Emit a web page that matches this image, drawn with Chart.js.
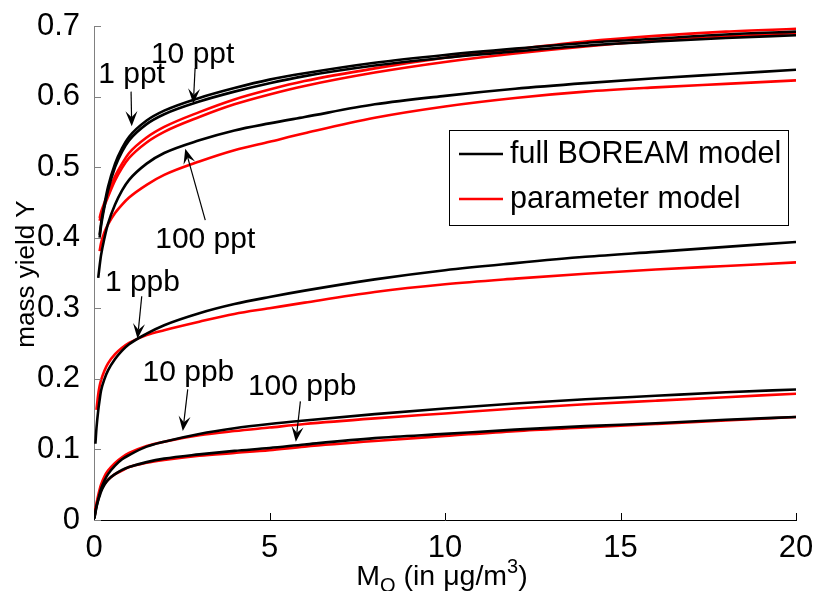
<!DOCTYPE html>
<html>
<head>
<meta charset="utf-8">
<script src="https://cdn.jsdelivr.net/npm/chart.js@4.4.1/dist/chart.umd.min.js"></script>
<style>
  html, body { margin: 0; padding: 0; background: #fff; }
  canvas { display: block; }
</style>
</head>
<body>
<canvas id="c" width="816" height="591"></canvas>
<script>
// ---- data ----
const xValues = [0.01, 0.04, 0.07, 0.12, 0.16, 0.2, 0.3, 0.4, 0.6, 0.8, 1, 1.5, 2, 3, 4, 5, 6, 8, 10, 12, 14, 16, 18, 20];

// full BOREAM model (black)
const boream1ppt   = [null, null, null, null, 0.404, 0.420, 0.448, 0.472, 0.505, 0.527, 0.543, 0.566, 0.580, 0.598, 0.612, 0.624, 0.633, 0.648, 0.659, 0.668, 0.676, 0.682, 0.688, 0.692];
const boream10ppt  = [null, null, null, null, 0.400, 0.416, 0.444, 0.467, 0.500, 0.522, 0.538, 0.561, 0.575, 0.593, 0.607, 0.619, 0.629, 0.644, 0.655, 0.664, 0.672, 0.678, 0.683, 0.687];
const boream100ppt = [null, null, null, 0.343, 0.360, 0.375, 0.400, 0.420, 0.447, 0.467, 0.482, 0.505, 0.520, 0.538, 0.552, 0.562, 0.571, 0.589, 0.601, 0.611, 0.619, 0.626, 0.632, 0.638];
const boream1ppb   = [null, 0.108, 0.130, 0.155, 0.170, 0.183, 0.200, 0.212, 0.228, 0.240, 0.249, 0.264, 0.276, 0.293, 0.306, 0.316, 0.325, 0.341, 0.354, 0.364, 0.373, 0.380, 0.387, 0.394];
const boream10ppb  = [0.002, 0.010, 0.018, 0.029, 0.037, 0.044, 0.056, 0.065, 0.077, 0.086, 0.092, 0.104, 0.111, 0.122, 0.130, 0.136, 0.141, 0.150, 0.158, 0.165, 0.171, 0.176, 0.181, 0.185];
const boream100ppb = [0.002, 0.012, 0.019, 0.028, 0.034, 0.040, 0.050, 0.057, 0.065, 0.071, 0.075, 0.082, 0.087, 0.093, 0.098, 0.102, 0.107, 0.116, 0.122, 0.128, 0.133, 0.137, 0.142, 0.146];

// parameter model (red)
const param1ppt   = [null, null, null, null, 0.428, 0.436, 0.450, 0.463, 0.487, 0.505, 0.520, 0.542, 0.557, 0.578, 0.596, 0.610, 0.622, 0.640, 0.655, 0.667, 0.678, 0.686, 0.692, 0.696];
const param10ppt  = [null, null, null, null, 0.424, 0.432, 0.446, 0.458, 0.481, 0.499, 0.513, 0.535, 0.550, 0.571, 0.589, 0.603, 0.615, 0.634, 0.649, 0.661, 0.671, 0.679, 0.685, 0.690];
const param100ppt = [null, null, null, null, 0.381, 0.392, 0.408, 0.419, 0.435, 0.447, 0.457, 0.475, 0.489, 0.508, 0.524, 0.536, 0.548, 0.570, 0.586, 0.598, 0.607, 0.613, 0.618, 0.623];
const param1ppb   = [null, null, 0.156, 0.178, 0.190, 0.198, 0.212, 0.222, 0.235, 0.244, 0.251, 0.262, 0.269, 0.281, 0.292, 0.300, 0.308, 0.323, 0.334, 0.342, 0.349, 0.355, 0.360, 0.365];
const param10ppb  = [0.003, 0.014, 0.023, 0.035, 0.043, 0.050, 0.062, 0.070, 0.081, 0.089, 0.095, 0.105, 0.111, 0.120, 0.126, 0.131, 0.136, 0.144, 0.151, 0.158, 0.164, 0.169, 0.174, 0.179];
const param100ppb = [0.003, 0.014, 0.022, 0.031, 0.037, 0.042, 0.051, 0.057, 0.065, 0.070, 0.075, 0.081, 0.085, 0.091, 0.095, 0.099, 0.104, 0.112, 0.119, 0.126, 0.131, 0.136, 0.141, 0.146];

const xTicks = [0, 5, 10, 15, 20];
const yTicks = [0, 0.1, 0.2, 0.3, 0.4, 0.5, 0.6, 0.7];
const legendLabels = ['full BOREAM model', 'parameter model'];

// annotations (data coordinates)
const annotText   = ['1 ppt', '10 ppt', '100 ppt', '1 ppb', '10 ppb', '100 ppb'];
const annotTextX  = [1.07, 2.81, 3.17, 1.38, 2.69, 5.93];
const annotTextY  = [0.619, 0.647, 0.385, 0.324, 0.1965, 0.1777];
const arrowTailX  = [1.056, 2.88, 3.17, 1.36, 2.67, 5.88];
const arrowTailY  = [0.607, 0.640, 0.425, 0.317, 0.185, 0.168];
const arrowTipX   = [1.075, 2.83, 2.60, 1.24, 2.53, 5.75];
const arrowTipY   = [0.558, 0.590, 0.526, 0.257, 0.126, 0.111];

// ---- build ----
const FONT = "'Liberation Sans', Arial, Helvetica, sans-serif";
function pts(arr) {
  const out = [];
  arr.forEach((y, i) => { if (y !== null) out.push({ x: xValues[i], y: y }); });
  return out;
}
const blackSeries = [boream1ppt, boream10ppt, boream100ppt, boream1ppb, boream10ppb, boream100ppb];
const redSeries = [param1ppt, param10ppt, param100ppt, param1ppb, param10ppb, param100ppb];
const datasets = [];
blackSeries.forEach(s => datasets.push({ label: legendLabels[0], data: pts(s), borderColor: '#000000', borderWidth: 2.6, pointRadius: 0, fill: false, cubicInterpolationMode: 'monotone' }));
redSeries.forEach(s => datasets.push({ label: legendLabels[1], data: pts(s), borderColor: '#ff0000', borderWidth: 2.6, pointRadius: 0, fill: false, cubicInterpolationMode: 'monotone' }));

const decorPlugin = {
  id: 'decor',
  afterDraw(chart) {
    const ctx = chart.ctx;
    const xs = chart.scales.x, ys = chart.scales.y;
    const area = chart.chartArea;
    ctx.save();
    // inward tick marks
    ctx.lineWidth = 1;
    ctx.strokeStyle = '#000';
    xTicks.forEach(v => {
      const px = Math.round(xs.getPixelForValue(v)) + 0.5;
      ctx.beginPath(); ctx.moveTo(px, area.bottom); ctx.lineTo(px, area.bottom - 7); ctx.stroke();
    });
    ctx.strokeStyle = '#808080';
    yTicks.forEach(v => {
      const py = Math.round(ys.getPixelForValue(v)) + 0.5;
      ctx.beginPath(); ctx.moveTo(area.left, py); ctx.lineTo(area.left + 7, py); ctx.stroke();
    });

    // annotations
    ctx.fillStyle = '#000';
    ctx.font = '30px ' + FONT;
    ctx.textAlign = 'center';
    ctx.textBaseline = 'alphabetic';
    annotText.forEach((t, i) => {
      ctx.fillText(t, xs.getPixelForValue(annotTextX[i]), ys.getPixelForValue(annotTextY[i]));
      const x0 = xs.getPixelForValue(arrowTailX[i]), y0 = ys.getPixelForValue(arrowTailY[i]);
      const x1 = xs.getPixelForValue(arrowTipX[i]), y1 = ys.getPixelForValue(arrowTipY[i]);
      const dx = x1 - x0, dy = y1 - y0, len = Math.hypot(dx, dy);
      const ux = dx / len, uy = dy / len, nx = -uy, ny = ux;
      const L = 15, W = 6;
      ctx.strokeStyle = '#000';
      ctx.lineWidth = 1.2;
      ctx.beginPath(); ctx.moveTo(x0, y0); ctx.lineTo(x1 - ux * L * 0.6, y1 - uy * L * 0.6); ctx.stroke();
      ctx.beginPath();
      ctx.moveTo(x1, y1);
      ctx.lineTo(x1 - ux * L + nx * W, y1 - uy * L + ny * W);
      ctx.lineTo(x1 - ux * L * 0.6, y1 - uy * L * 0.6);
      ctx.lineTo(x1 - ux * L - nx * W, y1 - uy * L - ny * W);
      ctx.closePath();
      ctx.fill();
    });

    // legend
    const lx = 449.5, ly = 130.5, lw = 339, lh = 95;
    ctx.fillStyle = '#fff';
    ctx.fillRect(lx, ly, lw, lh);
    ctx.strokeStyle = '#000'; ctx.lineWidth = 1;
    ctx.strokeRect(lx, ly, lw, lh);
    const rows = [154, 199], cols = ['#000000', '#ff0000'];
    rows.forEach((ry, i) => {
      ctx.strokeStyle = cols[i]; ctx.lineWidth = 2.6;
      ctx.beginPath(); ctx.moveTo(459, ry); ctx.lineTo(503, ry); ctx.stroke();
      ctx.fillStyle = '#000';
      ctx.textAlign = 'left'; ctx.textBaseline = 'middle';
      ctx.font = '30.5px ' + FONT;
      ctx.fillText(legendLabels[i], 510, ry + 1);
    });

    // y title
    ctx.save();
    ctx.translate(27, 274);
    ctx.rotate(-Math.PI / 2);
    ctx.font = '26px ' + FONT;
    ctx.textAlign = 'center'; ctx.textBaseline = 'middle';
    ctx.fillStyle = '#000';
    ctx.fillText('mass yield Y', 0, 0);
    ctx.restore();

    // x title: M_O (in μg/m^3)
    const big = '28.5px ' + FONT, small = '20px ' + FONT;
    const parts = [
      { t: 'M', f: big, dy: 0 },
      { t: 'O', f: small, dy: 7 },
      { t: ' (in \u03bcg/m', f: big, dy: 0 },
      { t: '3', f: small, dy: -12 },
      { t: ')', f: big, dy: 0 }
    ];
    let total = 0;
    parts.forEach(p => { ctx.font = p.f; p.w = ctx.measureText(p.t).width; total += p.w; });
    let cx = 442 - total / 2;
    const base = 585;
    ctx.textAlign = 'left'; ctx.textBaseline = 'alphabetic'; ctx.fillStyle = '#000';
    parts.forEach(p => { ctx.font = p.f; ctx.fillText(p.t, cx, base + p.dy); cx += p.w; });
    ctx.restore();
  }
};

new Chart(document.getElementById('c'), {
  type: 'line',
  data: { datasets: datasets },
  plugins: [decorPlugin],
  options: {
    responsive: false,
    animation: false,
    devicePixelRatio: 1,
    layout: { padding: { left: 0, right: 20, top: 26, bottom: 0 } },
    plugins: { legend: { display: false }, tooltip: { enabled: false } },
    scales: {
      x: {
        type: 'linear', min: 0, max: 20,
        afterBuildTicks: s => { s.ticks = xTicks.map(v => ({ value: v })); },
        afterFit: s => { s.height = 71; },
        grid: { display: false },
        border: { display: true, color: '#000', width: 1 },
        ticks: { color: '#000', font: { family: FONT, size: 31 }, padding: 2, maxRotation: 0 }
      },
      y: {
        type: 'linear', min: 0, max: 0.7,
        afterBuildTicks: s => { s.ticks = yTicks.map(v => ({ value: v })); },
        afterFit: s => { s.width = 94; },
        grid: { display: false },
        border: { display: true, color: '#808080', width: 1 },
        ticks: { color: '#000', font: { family: FONT, size: 31 }, padding: 6, callback: v => String(Math.round(v * 10) / 10) }
      }
    }
  }
});
</script>
</body>
</html>
